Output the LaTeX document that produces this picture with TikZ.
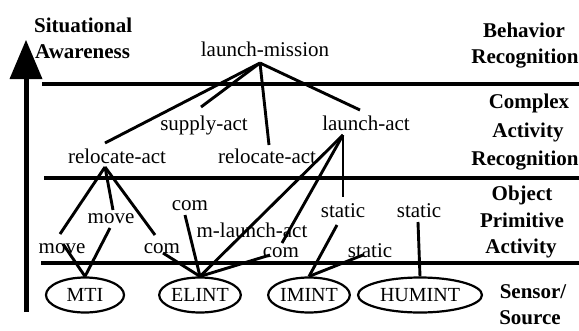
\documentclass[tikz,border=0pt]{standalone}
\usepackage{fontspec}
\setmainfont{Liberation Serif}
\usetikzlibrary{shapes.geometric}
\begin{document}
\begin{tikzpicture}[x=1pt,y=-1pt,
  lbl/.style={inner sep=0pt, anchor=base, font=\fontsize{21}{25}\selectfont},
  hdr/.style={inner sep=0pt, anchor=base, font=\fontsize{21}{25}\selectfont\bfseries},
  src/.style={ellipse, draw, line width=2.2pt, minimum width=78pt, minimum height=35pt,
              inner sep=0pt, font=\fontsize{20}{24}\selectfont},
  link/.style={line width=2.9pt},
  rule/.style={line width=4.5pt}]
\useasboundingbox[fill=white] (0,0) rectangle (579,330);

% level axis
\draw[line width=5pt] (26,312) -- (26,74);
\fill (26,40) -- (42.5,79) -- (9.5,79) -- cycle;
\node[hdr, anchor=base west] (sit) at (34,32) {Situational};
\node[hdr, anchor=base west] (awa) at (35,58) {Awareness};

% level separators
\draw[rule] (42,84) -- (579,84);
\draw[rule] (44,178) -- (579,178);
\draw[rule] (41,263) -- (579,263);

% level names
\node[hdr] (beh1) at (524,37) {Behavior};
\node[hdr] (beh2) at (525,63) {Recognition};
\node[hdr] (cpx1) at (529,108) {Complex};
\node[hdr] (cpx2) at (528,137) {Activity};
\node[hdr] (cpx3) at (525,165) {Recognition};
\node[hdr] (obj1) at (522,200) {Object};
\node[hdr] (obj2) at (522,227) {Primitive};
\node[hdr] (obj3) at (521,253) {Activity};
\node[hdr] (sen1) at (533,298) {Sensor/};
\node[hdr] (sen2) at (530,324) {Source};

% activity labels
\node[lbl] (lm) at (265,56) {launch-mission};
\node[lbl] (sup) at (204,130) {supply-act};
\node[lbl] (lact) at (366,130) {launch-act};
\node[lbl] (rel1) at (117,163) {relocate-act};
\node[lbl] (rel2) at (267,163) {relocate-act};
\node[lbl] (mv1) at (62,253) {move};
\node[lbl] (mv2) at (111,223) {move};
\node[lbl] (com1) at (162,253) {com};
\node[lbl] (com2) at (190,210) {com};
\node[lbl] (com3) at (281,257) {com};
\node[lbl] (mla) at (252,237) {m-launch-act};
\node[lbl] (st1) at (343,217) {static};
\node[lbl] (st2) at (419,217) {static};
\node[lbl] (st3) at (370,257) {static};

% sensors / sources
\node[src] (mti) at (85,295) {MTI};
\node[src] (elint) at (200,295) {ELINT};
\node[src] (imint) at (309,295) {IMINT};
\node[src, minimum width=124pt] (humint) at (420,295) {HUMINT};

% connector end points beside the labels
\coordinate (lm-f) at (260,63);
\coordinate (sup-h) at (201,107);
\coordinate (lact-h) at (360,110);
\coordinate (lact-f) at (343,135);
\coordinate (rel1-h) at (105,143);
\coordinate (rel1-f) at (105,167);
\coordinate (rel2-h) at (269,145);
\coordinate (mv1-h) at (60,234);
\coordinate (mv1-f) at (63,244);
\coordinate (mv2-h) at (113,210);
\coordinate (mv2-f) at (110,228);
\coordinate (com1-h) at (155,235);
\coordinate (com1-f) at (163,253);
\coordinate (com2-f) at (185,215);
\coordinate (com3-h) at (282,243);
\coordinate (com3-f) at (270,255);
\coordinate (st1-h) at (343,197);
\coordinate (st1-f) at (337,225);
\coordinate (st2-f) at (418,222);
\coordinate (st3-f) at (363,255);

% decomposition links
\draw[link] (lm-f) -- (rel1-h);
\draw[link] (lm-f) -- (sup-h);
\draw[link] (lm-f) -- (rel2-h);
\draw[link] (lm-f) -- (lact-h);
\draw[link] (rel1-f) -- (mv1-h);
\draw[link] (rel1-f) -- (mv2-h);
\draw[link] (rel1-f) -- (com1-h);
\draw[link] (lact-f) -- (elint.north);
\draw[link] (lact-f) -- (com3-h);
\draw[link] (lact-f) -- (st1-h);
\draw[link] (mv1-f) -- (mti.north);
\draw[link] (mv2-f) -- (mti.north);
\draw[link] (com1-f) -- (elint.north);
\draw[link] (com2-f) -- (elint.north);
\draw[link] (com3-f) -- (elint.north);
\draw[link] (st1-f) -- (imint.north);
\draw[link] (st3-f) -- (imint.north);
\draw[link] (st2-f) -- (humint.north);
\end{tikzpicture}
\end{document}
